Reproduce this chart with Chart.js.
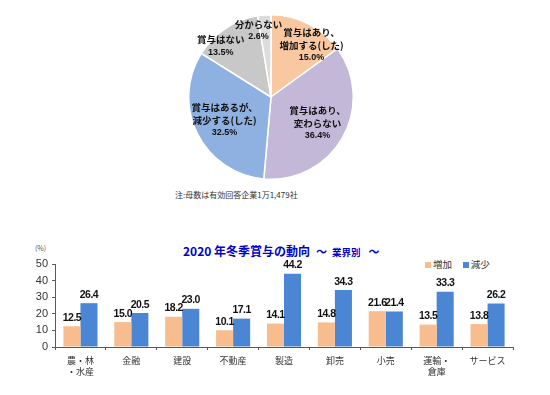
<!DOCTYPE html>
<html>
<head>
<meta charset="utf-8">
<script src="https://cdn.jsdelivr.net/npm/chart.js@4"></script>
<style>
body{margin:0;background:#fff;width:550px;height:395px;position:relative;overflow:hidden;font-family:"Noto Sans CJK JP",sans-serif;}
#pieBox{position:absolute;left:188px;top:14px;width:166px;height:166px;}
#barBox{position:absolute;left:0;top:250px;width:530px;height:140px;}
.note{position:absolute;left:175px;top:189px;font-size:8px;color:#333;white-space:nowrap;}
.title{position:absolute;left:183px;top:237px;color:#0000cc;font-weight:bold;white-space:nowrap;}
.unit{position:absolute;left:35px;top:243px;font-size:7px;color:#555;}
.legend{position:absolute;left:425px;top:257px;font-size:9.5px;color:#333;white-space:nowrap;}
.legend span.box{display:inline-block;width:6px;height:6px;margin-right:2px;vertical-align:0px;}
</style>
</head>
<body>

<div id="pieBox"><canvas id="pieChart"></canvas></div>
<div class="note">注:母数は有効回答企業1万1,479社</div>

<div class="title"><span style="font-size:12px">2020 年冬季賞与の動向</span><span style="font-size:11px;margin-left:6px">～</span><span style="font-size:9.5px;margin-left:5px">業界別</span><span style="font-size:11px;margin-left:8px">～</span></div>
<div class="unit">(%)</div>
<div class="legend"><span class="box" style="background:#f8bd8e"></span>増加&nbsp;&nbsp;&nbsp;&nbsp;&nbsp;<span class="box" style="background:#4a86d3"></span>減少</div>
<div id="barBox"><canvas id="barChart"></canvas></div>

<script>

// pie data
const pieLabels=[
["賞与はあり、","増加する(した)"],
["賞与はあり、","変わらない"],
["賞与はあるが、","減少する(した)"],
["賞与はない"],
["分からない"]
];
const pieValues=[15.0,36.4,32.5,13.5,2.6];
const pieColors=["#f9c7a0","#c4b8d9","#8fb1e1","#c8c8c8","#dcdcdc"];

// bar data
const categories=[["農・林","・水産"],"金融","建設","不動産","製造","卸売","小売",["運輸・","倉庫"],"サービス"];
const increase=[12.5,15.0,18.2,10.1,14.1,14.8,21.6,13.5,13.8];
const decrease=[26.4,20.5,23.0,17.1,44.2,34.3,21.4,33.3,26.2];
const yTicks=[0,10,20,30,40,50];

// label placement for pie (radius share, angle nudge in degrees)
const pieLabelRadius=[0.8,0.65,0.63,0.87,0.82];
const pieLabelTurn=[11,0,0,-11,-6];

const pieText={
id:"pieText",
afterDatasetsDraw(chart){
const ctx=chart.ctx;
const meta=chart.getDatasetMeta(0);
ctx.save();
ctx.fillStyle="#111";
ctx.textAlign="center";
ctx.textBaseline="middle";
meta.data.forEach((arc,i)=>{
const mid=(arc.startAngle+arc.endAngle)/2+pieLabelTurn[i]*Math.PI/180;
const r=arc.outerRadius*pieLabelRadius[i];
const x=arc.x+Math.cos(mid)*r;
const y=arc.y+Math.sin(mid)*r;
const lines=pieLabels[i].concat([pieValues[i].toFixed(1)+"%"]);
const lh=12.5;
const top=y-(lines.length-1)*lh/2;
lines.forEach((t,k)=>{
ctx.font=(k==lines.length-1?"bold 9px 'Liberation Sans'":"bold 9.5px 'Noto Sans CJK JP'");
ctx.fillText(t,x,top+k*lh);
});
});
ctx.restore();
}
};

new Chart(document.getElementById("pieChart"),{
type:"pie",
data:{
labels:pieLabels.map(l=>l.join("")),
datasets:[{
data:pieValues,
backgroundColor:pieColors,
borderColor:"#ffffff",
borderWidth:1.5
}]
},
options:{
responsive:true,
maintainAspectRatio:false,
animation:false,
layout:{padding:0},
plugins:{legend:{display:false},tooltip:{enabled:false}}
},
plugins:[pieText]
});

const barValues={
id:"barValues",
afterDatasetsDraw(chart){
const ctx=chart.ctx;
ctx.save();
ctx.font="bold 10.5px 'Liberation Sans'";
ctx.letterSpacing="-0.5px";
ctx.fillStyle="#111";
ctx.textAlign="center";
ctx.textBaseline="bottom";
chart.data.datasets.forEach((ds,d)=>{
chart.getDatasetMeta(d).data.forEach((bar,i)=>{
ctx.fillText(ds.data[i].toFixed(1),bar.x,bar.y-3);
});
});
ctx.restore();
}
};

new Chart(document.getElementById("barChart"),{
type:"bar",
data:{
labels:categories,
datasets:[{
label:"増加",
data:increase,
backgroundColor:"#f8bd8e",
categoryPercentage:0.67,
barPercentage:1
},{
label:"減少",
data:decrease,
backgroundColor:"#4a86d3",
categoryPercentage:0.67,
barPercentage:1
}]
},
options:{
responsive:true,
maintainAspectRatio:false,
animation:false,
layout:{padding:{top:14,right:17,left:0,bottom:0}},
plugins:{legend:{display:false},tooltip:{enabled:false}},
scales:{
x:{
grid:{drawOnChartArea:false,tickLength:3,color:"#595959"},
border:{color:"#595959"},
ticks:{font:{family:"Noto Sans CJK JP",size:9},color:"#333",padding:5,maxRotation:0},
afterFit(s){s.height=43;}
},
y:{
min:0,max:50,
afterBuildTicks(s){s.ticks=yTicks.map(v=>({value:v}));},
grid:{drawOnChartArea:false,tickLength:3,color:"#595959"},
border:{color:"#595959"},
ticks:{font:{family:"Liberation Sans",size:11},color:"#333",padding:4},
afterFit(s){s.width=55;}
}
}
},
plugins:[barValues]
});

</script>
</body>
</html>
